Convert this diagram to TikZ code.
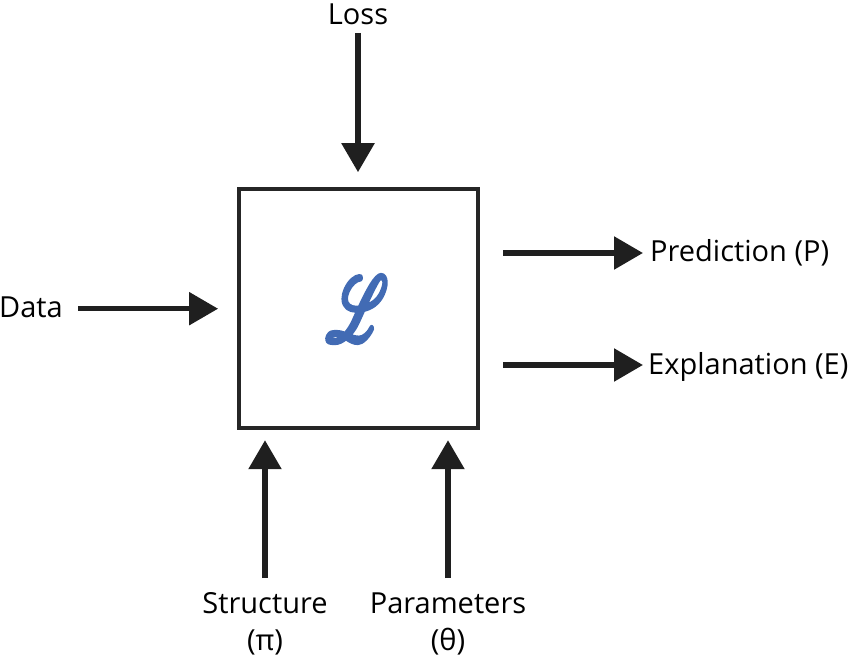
\documentclass[tikz,border=0pt]{standalone}
\usepackage{fontspec}
\setmainfont{Open Sans}
\usepackage{mathrsfs}
\usetikzlibrary{arrows.meta}
\definecolor{lblue}{RGB}{66,107,180}
\newcommand{\strokedglyph}[1]{%
  \special{pdf:literal q 2 Tr 0.55 w 1 j 0.259 0.420 0.706 RG}#1\special{pdf:literal Q}}
\begin{document}
\begin{tikzpicture}[x=1pt,y=-1pt,
  lbl/.style={inner sep=0pt,font=\fontsize{29}{37}\selectfont},
  mainbox/.style={draw=black!85,line width=4pt,minimum width=239pt,minimum height=239pt,inner sep=0pt},
  arr/.style={line width=5.5pt,draw=black!88,-{Triangle[length=29pt,width=32pt]}}]
\useasboundingbox (0,0) rectangle (850,658);
\node[mainbox] (box) at (358.3,308.7) {};
\node[inner sep=0pt,text=lblue] (ell) at (357,309) {\resizebox{62pt}{64pt}{\strokedglyph{$\mathscr{L}$}}};
\node[lbl,anchor=base] (loss) at (358,25) {Loss};
\node[lbl,anchor=base east] (data) at (63,317) {Data};
\node[lbl,anchor=base west] (pred) at (650,261) {Prediction (P)};
\node[lbl,anchor=base west] (expl) at (648,374) {Explanation (E)};
\node[lbl,anchor=base,align=center] (struct) at (265,650) {Structure\\(π)};
\node[lbl,anchor=base,align=center] (param) at (448,650) {Parameters\\(θ)};
\coordinate (lt) at (358,33);
\coordinate (pt) at (503,253);
\coordinate (et) at (503,365);
\coordinate (st) at (265,578);
\coordinate (at) at (448,578);
\draw[arr,shorten >=15pt] (lt) -- (lt |- box.north);
\draw[arr,shorten <=15pt,shorten >=18.7pt] (data.east |- box.west) -- (box.west);
\draw[arr,shorten >=7pt] (pt) -- (pred.west |- pt);
\draw[arr,shorten >=5pt] (et) -- (expl.west |- et);
\draw[arr,shorten >=10pt] (st) -- (st |- box.south);
\draw[arr,shorten >=10pt] (at) -- (at |- box.south);
\end{tikzpicture}
\end{document}
